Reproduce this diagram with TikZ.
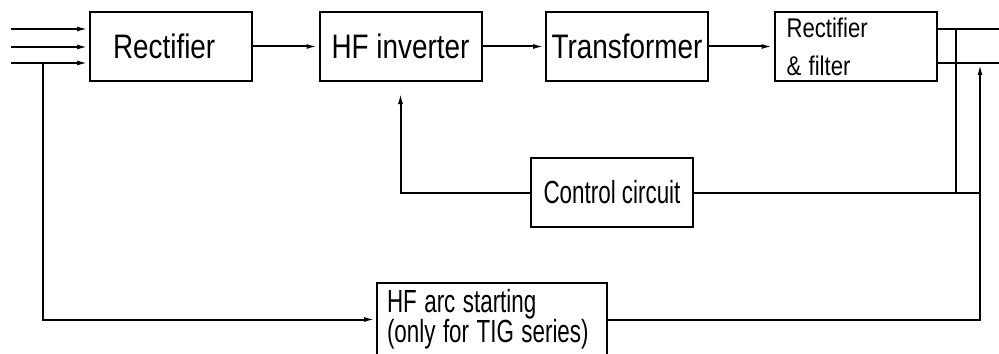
\documentclass[tikz,border=0pt]{standalone}
\usepackage{fontspec}
\setmainfont{Liberation Sans}
\usetikzlibrary{arrows.meta}
\newcommand\sqz[2]{\scalebox{#1}[1]{#2}}
\tikzset{
  blk/.style={draw, line width=1pt, minimum width=81pt, minimum height=34.5pt, inner sep=0pt},
  big/.style={font=\fontsize{17pt}{20pt}\selectfont},
  ln/.style={line width=1pt},
  arr/.style={ln, -{Latex[length=6pt,width=2.4pt]}}
}
\begin{document}
\begin{tikzpicture}[x=0.5pt, y=-0.5pt]
\useasboundingbox (0,0) rectangle (999,353);
% main chain
\node[blk, big, align=left, text width=58pt, inner xsep=11.5pt] (rect) at (171,46.5) {\sqz{0.82}{Rectifier}};
\node[blk, big] (inv) at (400.5,46.5) {\sqz{0.82}{HF inverter}};
\node[blk, big] (trans) at (627,46.5) {\sqz{0.82}{Transformer}};
\node[blk, align=left, text width=69pt, inner xsep=6pt,
  font=\fontsize{13.5pt}{19pt}\selectfont] (filt) at (855.5,46.5) {\sqz{0.82}{Rectifier}\\\sqz{0.82}{\& filter}};
\node[blk, font=\fontsize{16pt}{18pt}\selectfont] (ctrl) at (612,192.5) {\sqz{0.7}{Control circuit}};
\node[blk, minimum width=115pt, minimum height=36.5pt, align=left, text width=105pt, inner xsep=5pt,
  font=\fontsize{16pt}{15pt}\selectfont] (hfarc) at (492,319.5)
  {\lineskiplimit=-10pt\sqz{0.7}{HF arc starting}\\\sqz{0.7}{(only for TIG series)}};
% free ends
\coordinate (in0) at (11,29);
\coordinate (in1) at (11,47);
\coordinate (in2) at (11,63);
\coordinate (o1) at (999,29);
\coordinate (o2) at (999,63);
\coordinate (fb) at (956,29);
\coordinate (rb) at (980,319.5);
\coordinate (lb) at (43,319.5);
% connectors
\foreach \i in {in0,in1,in2}
  \draw[arr] (\i) -- (rect.west |- \i);
\draw[arr] (rect) -- (inv);
\draw[arr] (inv) -- (trans);
\draw[arr] (trans) -- (filt);
\draw[ln] (o1 -| filt.east) -- (o1);
\draw[ln] (o2 -| filt.east) -- (o2);
\draw[ln] (fb) -- (fb |- ctrl);
\draw[arr] (ctrl.west) -| ([yshift=-5pt]inv.south);
\draw[ln] (ctrl.east) -- (ctrl.east -| rb);
\draw[arr] (hfarc.east) -- (rb) -- (rb |- o2);
\draw[arr] (lb |- in2) -- (lb) -- (hfarc.west);
\end{tikzpicture}
\end{document}
